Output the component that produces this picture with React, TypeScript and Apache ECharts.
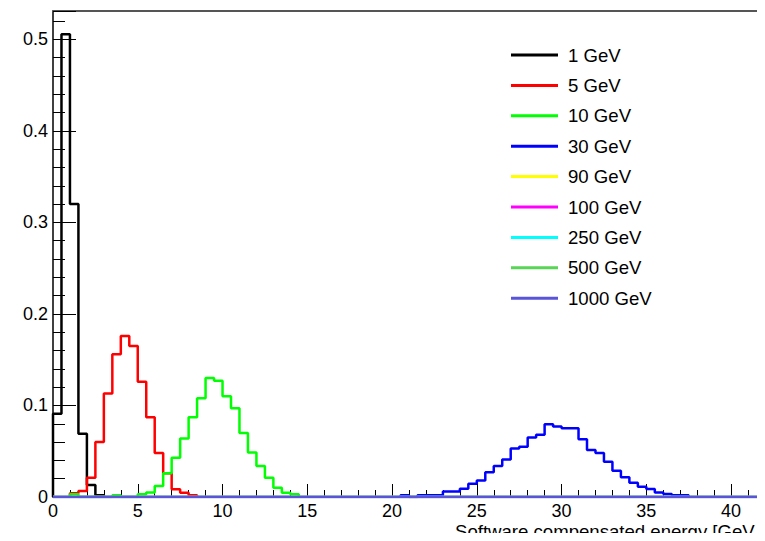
import { useEffect, useRef } from "react";
import * as echarts from "echarts";

// Histogram binning and axis ranges
const binWidth = 0.5;
const xMin = 0;
const xMax = 42;
const yMin = 0;
const yMax = 0.531;
const xInterval = 5;
const yInterval = 0.1;

const seriesNames = [
  "1 GeV",
  "5 GeV",
  "10 GeV",
  "30 GeV",
  "90 GeV",
  "100 GeV",
  "250 GeV",
  "500 GeV",
  "1000 GeV",
];
const seriesColors = [
  "#000000",
  "#ff0000",
  "#00ff00",
  "#0000ff",
  "#ffff00",
  "#ff00ff",
  "#00ffff",
  "#59d454",
  "#5954d9",
];

// Left edge (GeV) of the first filled bin of each histogram
const firstEdges = [0, 1.0, 1.0, 20.5, 0, 0, 0, 0, 0];

// Normalised bin contents, one entry per 0.5 GeV bin
const counts1GeV = [0.091, 0.5055, 0.32, 0.069, 0.013, 0.002];
const counts5GeV = [
  0.004, 0.0066, 0.021, 0.06, 0.113, 0.156, 0.176, 0.165, 0.126, 0.087, 0.048,
  0.026, 0.0084, 0.0047, 0.002,
];
const counts10GeV = [
  0.003, 0, 0, 0, 0, 0.002, 0, 0, 0.003, 0.005, 0.012, 0.026, 0.043, 0.064,
  0.087, 0.108, 0.13, 0.127, 0.11, 0.097, 0.07, 0.0485, 0.034, 0.021, 0.01,
  0.0047, 0.003,
];
const counts30GeV = [
  0.002, 0, 0.002, 0.002, 0.002, 0.006, 0.006, 0.009, 0.0146, 0.018, 0.027,
  0.034, 0.041, 0.053, 0.055, 0.065, 0.068, 0.0795, 0.077, 0.075, 0.075, 0.063,
  0.0514, 0.048, 0.0386, 0.0288, 0.0215, 0.0157, 0.0113, 0.0087, 0.005, 0.0033,
  0.002, 0.002,
];
const counts90GeV: number[] = [];
const counts100GeV: number[] = [];
const counts250GeV: number[] = [];
const counts500GeV: number[] = [];
const counts1000GeV: number[] = [];

const allCounts = [
  counts1GeV,
  counts5GeV,
  counts10GeV,
  counts30GeV,
  counts90GeV,
  counts100GeV,
  counts250GeV,
  counts500GeV,
  counts1000GeV,
];

const FONT = "'Liberation Sans', Arial, Helvetica, sans-serif";

// Outline of a histogram as step points at the bin edges (empty ones lie on the baseline)
function stepPoints(start: number, counts: number[]): [number, number][] {
  if (counts.length === 0) return [[xMin, 0], [xMax, 0]];
  const pts: [number, number][] = [[start, 0]];
  counts.forEach((c, i) => pts.push([start + i * binWidth, c]));
  pts.push([start + counts.length * binWidth, 0]);
  return pts;
}

export default function App() {
  const ref = useRef<HTMLDivElement>(null);

  useEffect(() => {
    if (!ref.current) return;
    const chart = echarts.init(ref.current, undefined, { renderer: "svg" });

    const series = seriesNames.map((name, i) => ({
      name,
      type: "line" as const,
      step: "end" as const,
      xAxisIndex: 0,
      data: stepPoints(firstEdges[i], allCounts[i]),
      showSymbol: false,
      itemStyle: { color: seriesColors[i] },
      lineStyle: { color: seriesColors[i], width: 2.5 },
    }));

    chart.setOption({
      animation: false,
      grid: { left: 53, top: 11, width: 718, bottom: 44 },
      xAxis: [
        {
          type: "value",
          min: xMin,
          max: xMax,
          interval: xInterval,
          axisLine: { show: true, onZero: false, lineStyle: { color: "#555555", width: 2 } },
          axisTick: { show: true, inside: true, length: 13, lineStyle: { color: "#000", width: 1 } },
          minorTick: { show: true, splitNumber: 5, length: 7, lineStyle: { color: "#000", width: 1 } },
          splitLine: { show: false },
          axisLabel: {
            color: "#000",
            fontSize: 18,
            fontFamily: FONT,
            margin: 5,
            showMaxLabel: false,
          },
        },
        {
          // top edge of the frame
          type: "value",
          position: "top",
          min: xMin,
          max: xMax,
          axisLine: { show: true, onZero: false, lineStyle: { color: "#555555", width: 2 } },
          axisTick: { show: false },
          minorTick: { show: false },
          axisLabel: { show: false },
          splitLine: { show: false },
        },
      ],
      yAxis: {
        type: "value",
        min: yMin,
        max: yMax,
        interval: yInterval,
        axisLine: { show: true, onZero: false, lineStyle: { color: "#000", width: 1.5 } },
        axisTick: { show: true, inside: true, length: 23, lineStyle: { color: "#000", width: 1 } },
        minorTick: { show: true, splitNumber: 5, length: 12, lineStyle: { color: "#000", width: 1 } },
        splitLine: { show: false },
        axisLabel: {
          color: "#000",
          fontSize: 18,
          fontFamily: FONT,
          margin: 5,
          showMaxLabel: false,
        },
      },
      legend: {
        orient: "vertical",
        left: 511,
        top: 45,
        padding: 0,
        itemGap: 10.4,
        itemWidth: 47,
        itemHeight: 3,
        icon: "rect",
        textStyle: {
          color: "#000",
          fontSize: 18.6,
          fontFamily: FONT,
          lineHeight: 20,
          padding: [0, 0, 0, 5],
        },
        data: seriesNames,
      },
      graphic: [
        {
          type: "text",
          left: 455,
          top: 522,
          style: {
            text: "Software compensated energy [GeV",
            fontSize: 18.6,
            fontFamily: FONT,
            fill: "#000",
          },
        },
      ],
      series,
    });

    return () => chart.dispose();
  }, []);

  // In normal flow; the negative margins cancel the page's default body margin
  return (
    <div
      ref={ref}
      style={{ width: 765, height: 541, marginLeft: -8, marginTop: -8, marginBottom: -8 }}
    />
  );
}
